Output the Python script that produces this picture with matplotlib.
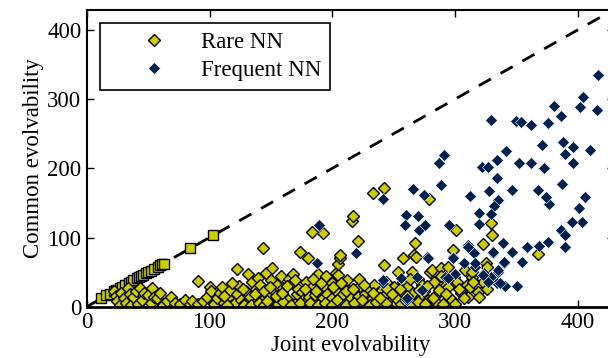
import matplotlib
matplotlib.use("Agg")
import matplotlib.pyplot as plt

plt.rcParams['font.family'] = ['Liberation Serif', 'DejaVu Serif']

# rare NN lying on the diagonal (square markers)
rare_sq_x = [11.6, 16, 19, 22, 24, 27, 29, 31, 34, 36, 38, 41, 42.8, 44, 46, 48, 50, 52, 55, 58, 60, 61, 63, 84.1, 102.6]
rare_sq_y = [13, 17, 19, 22, 24, 27, 29, 31, 34, 36, 38, 41, 43.4, 44, 46, 48, 50, 52, 55, 58, 60, 61.2, 62, 84.4, 103.2]

# rare NN (diamonds)
rare_x = [22, 24, 25, 27, 28, 30, 32, 33.8, 35, 36, 38, 40, 42, 43.4, 45, 47, 50, 52, 53, 55,
          57, 60, 62.3, 65, 68.6, 72, 76, 80, 84, 86, 90.3, 91, 95, 97.7, 100.4, 101, 104, 106, 108.6, 110,
          112, 115.3, 117, 118, 120.8, 122, 122, 124, 126, 129, 130, 131.6, 133, 135, 136, 138, 139.8, 141.2, 143.9, 145,
          146, 148, 150, 150.7, 152, 153.4, 155, 157, 158, 160.2, 162, 164.3, 165, 167, 168.3, 169.7, 171, 172, 173.8, 175,
          176, 177.8, 179, 180.5, 181, 183.3, 183.3, 185, 186, 187, 188.7, 190, 192.7, 192.7, 194, 196, 197, 198, 199.6, 200,
          202, 203, 205, 205, 206, 206.4, 208, 209, 210.4, 212, 213, 215, 216, 217.3, 219, 221.3, 221.3, 223, 225, 227,
          229, 230.8, 232, 233.4, 234, 236.3, 238, 240, 242, 242, 242.5, 244, 246, 248.5, 250, 252, 254, 256, 257.7, 258,
          260.7, 262, 264.8, 266, 267, 267.6, 268.3, 268.8, 270, 272, 273.1, 275, 278.3, 279, 279.2, 280, 281, 283, 285, 288.6,
          289, 291, 294.6, 294.6, 297.4, 298.7, 299, 301, 301.4, 305, 308.2, 309.8, 311, 312.3, 313.7, 314, 317.8, 319, 322.5, 322.8,
          325, 325.9, 329, 330.4, 368,
          114, 128, 134, 140, 144, 147, 156, 160, 166, 174, 182, 188, 194, 200, 204, 211, 218, 224, 231, 236,
          244, 252, 256, 260, 264, 270, 276, 284, 290, 300,
          112, 118, 127, 137, 144, 149, 154, 159, 163, 170, 178, 184, 191, 195, 201, 207, 211, 217, 222, 226,
          233, 239, 245, 249, 255, 261, 263, 271, 277, 282, 287, 293, 303, 307, 315, 320, 326]
rare_y = [22, 16, 8, 2.5, 20, 12, 6, 26.6, 18, 3, 14.5, 22, 3.4, 27, 10, 20, 17, 6, 26.6, 14,
          12, 20, 2.5, 8, 14.5, 5, 3.4, 9, 3.4, 8, 37, 3.4, 8, 14.5, 29, 22, 4, 12, 19.4, 28,
          6, 12, 24, 3, 5, 54.5, 18, 30, 10, 5, 22, 46.8, 14, 36, 4, 26, 41, 31.4, 84.4, 12,
          48, 17, 38, 55.4, 24, 5, 32, 10, 44, 26.6, 3, 9.7, 40, 33.8, 46.8, 3.5, 18, 26, 79.5, 21.7,
          10, 5, 36, 70, 14, 29, 107.5, 3, 17, 22, 46.8, 8, 12, 106, 29, 18, 4, 38, 33.8, 12,
          24, 48, 45.8, 62, 70, 74.7, 8, 18, 29, 38, 4, 12, 124, 131, 22, 14.5, 95.4, 30, 4, 18,
          8, 24, 10, 163.9, 32, 14.5, 4, 22, 16, 172, 60.3, 36, 2.4, 9.7, 28, 6, 50.6, 18, 70.8, 36,
          29, 10, 50.6, 20, 74.7, 91.6, 71.3, 2.4, 40, 14, 31.4, 22, 9.7, 155, 7.2, 50.6, 53, 36, 18, 55.4,
          45, 28, 29, 57.8, 9.7, 82, 43, 111, 36, 20, 53, 31.3, 14.5, 29, 43.4, 50, 31.3, 21.7, 90, 36,
          62.6, 57.8, 121, 103, 75.5,
          2, 3, 2, 6, 3, 8, 4, 7, 2, 6, 6, 3, 6, 3, 9, 3, 5, 9, 3, 7,
          6, 12, 4, 8, 3, 7, 4, 8, 4, 4,
          16, 34, 26, 18, 22, 28, 15, 20, 30, 38, 25, 40, 34, 44, 28, 34, 22, 26, 40, 32,
          20, 12, 26, 18, 26, 16, 40, 24, 30, 12, 24, 18, 26, 12, 36, 14, 26]

# frequent NN (diamonds)
freq_x = [416.6, 404.6, 402, 416, 381, 386.6, 329.7, 349.4, 353.5, 362, 375.5, 341.4, 370.8, 387.9, 396.4, 410.3, 389.4, 291, 286.8, 321.9,
          327, 334, 351.9, 362, 372.4, 396, 334.2, 288.4, 265.6, 274.5, 312.4, 328, 346.8, 367.7, 387, 335, 331.9, 377, 405.6, 401.4,
          374.6, 260, 269.7, 259.3, 270.4, 276, 295, 320, 320, 329, 403.3, 395.5, 189, 219.2, 187.6, 241, 310.8, 315.2, 338.9, 346.8,
          358.8, 368.9, 376, 386.6, 390, 389.8, 331, 277.6, 298.2, 307.7, 316.2, 323.5, 329.7, 335, 339.8, 355, 334.5, 340.5, 350.9, 269.4,
          294, 256, 241, 272, 261, 300, 241.6, 260.7, 273, 277.8, 292, 311, 298.7, 316.4, 331.3, 340.3, 335.4, 323.1, 336.8, 326.7, 294.6]
freq_y = [335, 303.6, 289, 284, 290, 275.7, 270, 269, 267.5, 262.6, 266, 224.6, 233.7, 238.6, 231.3, 226.5, 220.7, 219, 207.2, 202.4,
          202, 212, 207, 207, 200, 208, 185.5, 176, 169.6, 161.4, 160, 167.7, 168.7, 168.7, 177.3, 154, 145.5, 149, 159, 142,
          159, 132.5, 131, 118, 110.8, 118, 118, 136, 119.5, 134, 123, 123, 118, 77, 63.6, 155, 89, 77, 91.6, 79.5,
          86.7, 88.2, 94, 110.8, 103.6, 86.7, 77, 72.3, 72.3, 63.6, 57.8, 48, 43.4, 50.6, 62.6, 64, 33.7, 30, 29.9, 43.4,
          41, 42, 33.7, 24, 9.6, 47, 38.6, 12, 24, 70, 43.4, 86.7, 70, 62.7, 79.5, 65, 53, 45.8, 33.8, 36, 41]

yellow = '#cccc00'
navy = '#002050'

fig = plt.figure(figsize=(6.08, 3.58), dpi=100)
ax = fig.add_axes([0.1428, 0.1433, 0.8678, 0.829])

lim = 430
ax.plot([0, lim], [0, lim], color='black', lw=2, linestyle=(0, (5, 4)), zorder=1)

ax.plot(rare_sq_x, rare_sq_y, 's', color=yellow, mec='black', mew=1.0, ms=6.7, zorder=2)
ax.plot(rare_x, rare_y, 'D', color=yellow, mec='black', mew=1.0, ms=6.3, zorder=2, label='Rare NN')
ax.plot(freq_x, freq_y, 'D', color=navy, mec='white', mew=0.4, ms=6.5, zorder=3, label='Frequent NN')

ax.set_xlim(0, lim)
ax.set_ylim(0, 429)
ax.set_xticks([0, 100, 200, 300, 400])
ax.set_yticks([0, 100, 200, 300, 400])
ax.tick_params(direction='in', top=True, right=True, length=5, width=1, labelsize=16.5, pad=4)
for s in ax.spines.values():
    s.set_linewidth(1.5)
ax.spines['bottom'].set_linewidth(2)

ax.set_xlabel('Joint evolvability', fontsize=16.5, labelpad=1.5)
ax.set_ylabel('Common evolvability', fontsize=16.5, labelpad=2)

leg = ax.legend(loc='upper left', bbox_to_anchor=(0.025, 0.956), borderaxespad=0,
                fontsize=16.5, handlelength=3.9, handletextpad=0.1, borderpad=0.4,
                labelspacing=0.3, fancybox=False, framealpha=1, edgecolor='black')
leg.get_frame().set_linewidth(1.2)

fig.savefig('out.png', dpi=100)
